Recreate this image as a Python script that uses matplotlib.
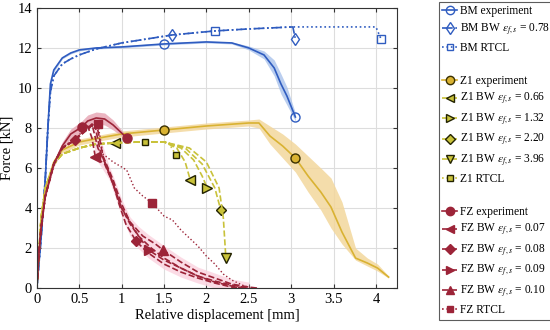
import numpy as np
import matplotlib.pyplot as plt
from matplotlib.lines import Line2D

plt.rcParams['font.family'] = ['Liberation Serif', 'DejaVu Serif']
plt.rcParams['mathtext.fontset'] = 'stix'

# colours
c_bm = '#2f5cc0'
c_z1 = '#d9b232'
c_z1bw = '#c9c23a'
c_fz = '#9c2438'

# BM data
bm_x = [0, 0.05, 0.1, 0.13, 0.16, 0.2, 0.3, 0.4, 0.5, 0.7, 1.0, 1.5, 2.0, 2.3, 2.5, 2.68, 2.8, 2.88, 2.95, 3.05]
bm_f = [0, 2.5, 5.5, 8.0, 10.2, 10.9, 11.5, 11.75, 11.9, 12.0, 12.05, 12.2, 12.3, 12.25, 12.0, 11.65, 11.0, 10.2, 9.6, 8.55]
bm_band = [0, 0.1, 0.1, 0.1, 0.1, 0.1, 0.05, 0.05, 0.05, 0.05, 0.05, 0.05, 0.05, 0.05, 0.1, 0.2, 0.4, 0.5, 0.45, 0.2]

bm_bw_x = [0, 0.05, 0.1, 0.13, 0.16, 0.2, 0.3, 0.4, 0.5, 0.7, 1.0, 1.3, 1.6, 2.1, 2.5, 3.02, 3.05]
bm_bw_f = [0, 2.5, 5.5, 8.0, 9.8, 10.6, 11.2, 11.45, 11.65, 11.95, 12.25, 12.45, 12.65, 12.85, 12.95, 13.05, 12.45]

bm_rtcl_x = [0, 0.05, 0.1, 0.13, 0.16, 0.2, 0.3, 0.4, 0.5, 0.7, 1.0, 1.3, 1.6, 2.1, 2.5, 3.0, 3.5, 4.0, 4.06]
bm_rtcl_f = [0, 2.5, 5.5, 8.0, 9.8, 10.6, 11.2, 11.45, 11.65, 11.95, 12.25, 12.45, 12.65, 12.85, 12.95, 13.05, 13.05, 13.05, 12.45]

# Z1 data
z1_x = [0, 0.05, 0.1, 0.2, 0.3, 0.5, 0.8, 1.0, 1.5, 2.0, 2.5, 2.62, 2.75, 2.9, 3.05, 3.2, 3.35, 3.47, 3.6, 3.76, 3.9, 4.02, 4.15]
z1_f = [0, 3.5, 5.0, 6.3, 6.9, 7.3, 7.55, 7.7, 7.9, 8.1, 8.25, 8.25, 7.6, 7.1, 6.5, 5.6, 4.8, 4.05, 2.8, 1.5, 1.25, 1.0, 0.55]
z1_lo = [0, 3.4, 4.9, 6.15, 6.75, 7.15, 7.4, 7.55, 7.75, 7.95, 8.1, 8.0, 7.2, 6.5, 5.8, 4.8, 3.9, 3.0, 2.2, 1.4, 1.1, 0.85, 0.5]
z1_hi = [0, 3.6, 5.1, 6.45, 7.05, 7.45, 7.7, 7.85, 8.05, 8.25, 8.4, 8.45, 8.1, 7.7, 7.2, 6.6, 6.0, 5.5, 4.3, 2.0, 1.5, 1.2, 0.6]

z1_bw_x = [0, 0.05, 0.1, 0.2, 0.3, 0.5, 0.7, 0.92, 1.2, 1.5]
z1_bw_f = [0, 3.5, 5.0, 6.2, 6.7, 7.0, 7.2, 7.25, 7.3, 7.3]
z1_066_x = z1_bw_x + [1.65, 1.75, 1.81]
z1_066_f = z1_bw_f + [7.0, 6.3, 5.4]
z1_132_x = z1_bw_x + [1.7, 1.85, 1.95, 2.01]
z1_132_f = z1_bw_f + [7.0, 6.4, 5.6, 5.0]
z1_220_x = z1_bw_x + [1.75, 1.95, 2.1, 2.17]
z1_220_f = z1_bw_f + [7.0, 6.2, 5.0, 3.9]
z1_396_x = z1_bw_x + [1.8, 2.0, 2.15, 2.2, 2.23]
z1_396_f = z1_bw_f + [7.0, 6.3, 5.0, 3.5, 1.5]

z1_rtcl_x = [0, 0.05, 0.1, 0.2, 0.3, 0.5, 0.7, 0.95, 1.27, 1.55, 1.64]
z1_rtcl_f = [0, 3.5, 5.0, 6.2, 6.7, 7.0, 7.2, 7.28, 7.3, 7.3, 6.65]

# FZ data
fz_x = [0, 0.02, 0.05, 0.1, 0.2, 0.3, 0.4, 0.53, 0.6, 0.7, 0.8, 0.9, 1.0, 1.06]
fz_f = [0, 1.5, 3.0, 4.6, 6.2, 7.1, 7.7, 8.05, 8.35, 8.5, 8.45, 8.15, 7.75, 7.5]
fz_band = [0, 0.05, 0.1, 0.1, 0.15, 0.2, 0.25, 0.3, 0.3, 0.3, 0.3, 0.25, 0.15, 0.1]

fz_rise_x = [0, 0.02, 0.05, 0.1, 0.2, 0.3, 0.45]
fz_rise_f = [0, 1.5, 3.0, 4.6, 6.2, 7.0, 7.4]
fz_007_x = fz_rise_x + [0.6, 0.65, 0.69, 0.8, 0.9, 1.0, 1.1, 1.2, 1.35, 1.5, 1.7, 1.9, 2.1, 2.3, 2.45]
fz_007_f = fz_rise_f + [8.1, 7.5, 6.55, 6.2, 5.2, 4.0, 3.2, 2.6, 2.0, 1.5, 1.0, 0.6, 0.3, 0.1, 0.0]
fz_008_x = fz_rise_x + [0.65, 0.72, 0.8, 0.9, 0.97, 1.05, 1.17, 1.3, 1.5, 1.7, 1.9, 2.1, 2.3, 2.4]
fz_008_f = fz_rise_f + [8.2, 7.0, 6.3, 5.2, 4.2, 3.2, 2.35, 1.8, 1.2, 0.8, 0.5, 0.25, 0.05, 0.0]
fz_009_x = fz_rise_x + [0.68, 0.75, 0.85, 0.95, 1.0, 1.1, 1.2, 1.32, 1.5, 1.7, 1.9, 2.1, 2.3, 2.5]
fz_009_f = fz_rise_f + [8.25, 6.8, 5.8, 4.6, 4.0, 3.3, 2.6, 1.9, 1.4, 1.0, 0.6, 0.35, 0.15, 0.0]
fz_010_x = fz_rise_x + [0.7, 0.78, 0.9, 1.0, 1.1, 1.25, 1.4, 1.49, 1.7, 1.9, 2.1, 2.3, 2.5, 2.6]
fz_010_f = fz_rise_f + [8.3, 6.6, 5.4, 4.2, 3.3, 2.6, 2.2, 1.9, 1.3, 0.8, 0.5, 0.2, 0.05, 0.0]

fz_rtcl_x = [0, 0.02, 0.05, 0.1, 0.2, 0.3, 0.45, 0.6, 0.72, 0.78, 0.9, 1.06, 1.15, 1.25, 1.36, 1.5, 1.6, 1.7, 1.8, 1.9, 2.0, 2.1, 2.2, 2.3, 2.45, 2.55]
fz_rtcl_f = [0, 1.5, 3.0, 4.6, 6.2, 7.0, 7.5, 8.0, 8.2, 6.7, 6.3, 5.9, 5.0, 4.6, 4.25, 3.6, 3.4, 2.9, 2.5, 2.1, 1.6, 1.2, 0.7, 0.4, 0.1, 0.0]

fig = plt.figure(figsize=(5.5, 3.3), dpi=100)
ax = fig.add_axes([0.067, 0.127, 0.655, 0.849])

# bands
bm_f_a = np.array(bm_f)
bm_b = np.array(bm_band)
ax.fill_between(bm_x, bm_f_a - bm_b, bm_f_a + bm_b, color='#a9c2ec', lw=0, alpha=0.8)
ax.fill_between(z1_x, z1_lo, z1_hi, color='#f3d79c', lw=0, alpha=0.85)
fz_f_a = np.array(fz_f)
fz_b = np.array(fz_band)
ax.fill_between(fz_x, fz_f_a - fz_b, fz_f_a + fz_b, color='#e6a3b2', lw=0, alpha=0.8)
fz_all = [(fz_007_x, fz_007_f), (fz_008_x, fz_008_f), (fz_009_x, fz_009_f), (fz_010_x, fz_010_f)]
fz_lo = np.minimum.reduce([np.interp(fz_009_x, x, f) for x, f in fz_all])
fz_hi = np.maximum.reduce([np.interp(fz_009_x, x, f) for x, f in fz_all])
ax.fill_between(fz_009_x, fz_lo - 0.25, fz_hi + 0.25, where=np.array(fz_009_x) > 0.6,
                color='#fbd3df', lw=0, alpha=0.8)

mk = dict(markersize=6.5)
# BM
ax.plot(bm_x, bm_f, '-', color=c_bm, lw=1.2, marker='o', mfc='none', mec=c_bm, markevery=[11, 19], **mk)
ax.plot(bm_bw_x, bm_bw_f, '-.', color=c_bm, lw=1.2, marker='d', mfc='none', mec=c_bm, markevery=[12, 16], **mk)
ax.plot(bm_rtcl_x, bm_rtcl_f, ':', color=c_bm, lw=1.2, marker='s', mfc='none', mec=c_bm, markevery=[13, 18], markersize=5.5)

# Z1
ax.plot(z1_x, z1_f, '-', color=c_z1, lw=1.2, marker='o', mfc=c_z1, mec='#3a3000', markevery=[8, 14], **mk)
ax.plot(z1_066_x, z1_066_f, '--', color=c_z1bw, lw=1.2, marker='<', mfc=c_z1bw, mec='#222200', markevery=[7, 12], **mk)
ax.plot(z1_132_x, z1_132_f, '--', color=c_z1bw, lw=1.2, marker='>', mfc=c_z1bw, mec='#222200', markevery=[13], **mk)
ax.plot(z1_220_x, z1_220_f, '--', color=c_z1bw, lw=1.2, marker='D', mfc=c_z1bw, mec='#222200', markevery=[13], markersize=5)
ax.plot(z1_396_x, z1_396_f, '--', color=c_z1bw, lw=1.2, marker='v', mfc=c_z1bw, mec='#222200', markevery=[14], **mk)
ax.plot(z1_rtcl_x, z1_rtcl_f, ':', color=c_z1bw, lw=1.2, marker='s', mfc=c_z1bw, mec='#222200', markevery=[8, 10], markersize=5)

# FZ
ax.plot(fz_x, fz_f, '-', color=c_fz, lw=1.2, marker='o', mfc=c_fz, mec=c_fz, markevery=[7, 13], **mk)
ax.plot(fz_007_x, fz_007_f, '--', color=c_fz, lw=1.2, marker='<', mfc=c_fz, mec=c_fz, markevery=[9], **mk)
ax.plot(fz_008_x, fz_008_f, '--', color=c_fz, lw=1.2, marker='D', mfc=c_fz, mec=c_fz, markevery=[6, 13], markersize=5)
ax.plot(fz_009_x, fz_009_f, '--', color=c_fz, lw=1.2, marker='>', mfc=c_fz, mec=c_fz, markevery=[14], **mk)
ax.plot(fz_010_x, fz_010_f, '--', color=c_fz, lw=1.2, marker='^', mfc=c_fz, mec=c_fz, markevery=[14], **mk)
ax.plot(fz_rtcl_x, fz_rtcl_f, ':', color=c_fz, lw=1.0, marker='s', mfc=c_fz, mec=c_fz, markevery=[8, 14], markersize=5.5)

ax.set_xlim(0, 4.25)
ax.set_ylim(0, 14)
ax.set_xticks([0, 0.5, 1, 1.5, 2, 2.5, 3, 3.5, 4])
ax.set_xticklabels(['0', '0.5', '1', '1.5', '2', '2.5', '3', '3.5', '4'])
ax.set_yticks([0, 2, 4, 6, 8, 10, 12, 14])
ax.grid(True, color='#dddddd', lw=0.8)
ax.set_axisbelow(True)
ax.tick_params(direction='in', top=True, right=True, labelsize=10.5, length=3, color='#333333')
for s in ax.spines.values():
    s.set_color('#333333')
    s.set_linewidth(0.8)
ax.set_xlabel('Relative displacement [mm]', fontsize=10.5, labelpad=2)
ax.set_ylabel('Force [kN]', fontsize=10.5, labelpad=3)


def h(color, ls, marker, mfc, mec, ms=6):
    return Line2D([], [], color=color, ls=ls, lw=1.2, marker=marker, mfc=mfc, mec=mec, markersize=ms)


blank = Line2D([], [], ls='none')
eps = r'$\varepsilon_{f,s}$'
handles = [
    h(c_bm, '-', 'o', 'none', c_bm), h(c_bm, '-.', 'd', 'none', c_bm), h(c_bm, ':', 's', 'none', c_bm, 5),
    blank,
    h(c_z1, '-', 'o', c_z1, '#3a3000'), h(c_z1bw, '--', '<', c_z1bw, '#222200'), h(c_z1bw, '--', '>', c_z1bw, '#222200'),
    h(c_z1bw, '--', 'D', c_z1bw, '#222200', 5), h(c_z1bw, '--', 'v', c_z1bw, '#222200'), h(c_z1bw, ':', 's', c_z1bw, '#222200', 5),
    blank,
    h(c_fz, '-', 'o', c_fz, c_fz), h(c_fz, '--', '<', c_fz, c_fz), h(c_fz, '--', 'D', c_fz, c_fz, 5),
    h(c_fz, '--', '>', c_fz, c_fz), h(c_fz, '--', '^', c_fz, c_fz), h(c_fz, ':', 's', c_fz, c_fz, 5),
]
labels = [
    'BM experiment', 'BM BW ' + eps + ' = 0.78', 'BM RTCL',
    ' ',
    'Z1 experiment', 'Z1 BW ' + eps + ' = 0.66', 'Z1 BW ' + eps + ' = 1.32',
    'Z1 BW ' + eps + ' = 2.20', 'Z1 BW ' + eps + ' = 3.96', 'Z1 RTCL',
    ' ',
    'FZ experiment', 'FZ BW ' + eps + ' = 0.07', 'FZ BW ' + eps + ' = 0.08',
    'FZ BW ' + eps + ' = 0.09', 'FZ BW ' + eps + ' = 0.10', 'FZ RTCL',
]
leg = fig.legend(handles, labels, loc='upper left', bbox_to_anchor=(0.798, 0.995), fontsize=8.3,
                 frameon=True, fancybox=False, edgecolor='#333333', handlelength=1.3,
                 handletextpad=0.2, labelspacing=0.38, borderpad=0.3, borderaxespad=0)
leg.get_frame().set_linewidth(0.8)

fig.savefig('out.png', dpi=100)
